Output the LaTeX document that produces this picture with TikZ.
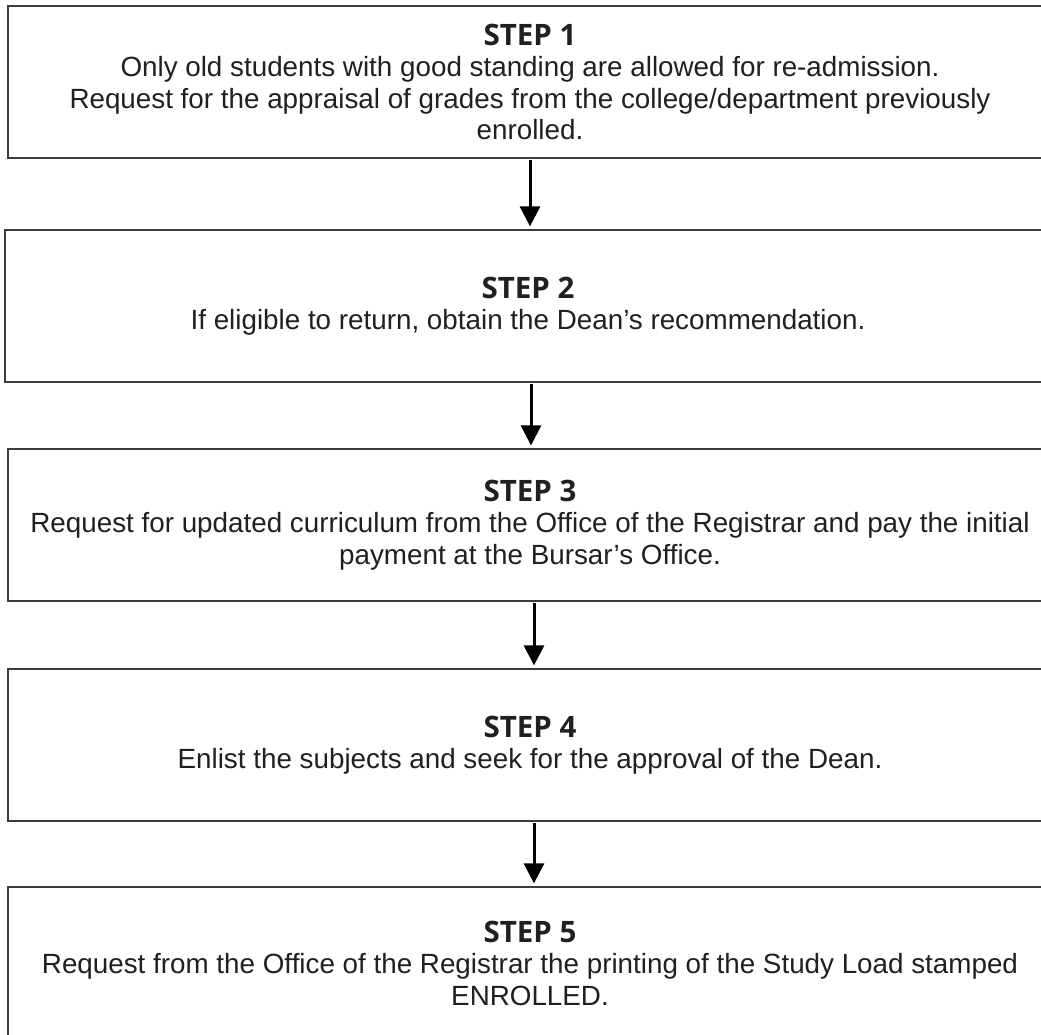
\documentclass[tikz,border=0pt]{standalone}
\usepackage{fontspec}
\setmainfont{Liberation Sans}
\newfontfamily\headfont{Open Sans}
\usetikzlibrary{arrows.meta}
\definecolor{boxline}{HTML}{3C3C3C}
\definecolor{txt}{HTML}{231F20}
\newcommand{\stephead}[1]{{\headfont\bfseries\fontsize{29.5}{31.5}\selectfont #1}}
\begin{document}
\begin{tikzpicture}[x=1pt,y=-1pt,
  stepbox/.style={draw=boxline,line width=1.3pt,minimum width=1044pt,minimum height=152pt,
    align=center,text=txt,font=\fontsize{27.8}{31.5}\selectfont,inner sep=0pt},
  arr/.style={line width=3pt,-{Triangle[width=20pt,length=20pt]},shorten >=3pt,shorten <=1pt}]
\useasboundingbox (0,0) rectangle (1041,1034);
\clip (0,0) rectangle (1041,1034);
\fill[white] (0,0) rectangle (1041,1034);
\node[stepbox] (b1) at (530,82) {\stephead{STEP 1}\\
  Only old students with good standing are allowed for re-admission.\\
  Request for the appraisal of grades from the college/department previously\\
  enrolled.};
\node[stepbox,minimum width=1046pt] (b2) at (528,306) {\stephead{STEP 2}\\
  If eligible to return, obtain the Dean’s recommendation.};
\node[stepbox] (b3) at (530,525) {\stephead{STEP 3}\\
  Request for updated curriculum from the Office of the Registrar and pay the initial\\
  payment at the Bursar’s Office.};
\node[stepbox] (b4) at (530,745) {\stephead{STEP 4}\\
  Enlist the subjects and seek for the approval of the Dean.};
\node[stepbox] (b5) at (530,963) {\stephead{STEP 5}\\
  Request from the Office of the Registrar the printing of the Study Load stamped\\
  ENROLLED.};
\draw[arr] (b1.south) -- (b1.south |- b2.north);
\draw[arr] ([xshift=3pt]b2.south) -- ([xshift=3pt]b2.south |- b3.north);
\draw[arr] ([xshift=4pt]b3.south) -- ([xshift=4pt]b3.south |- b4.north);
\draw[arr] ([xshift=4pt]b4.south) -- ([xshift=4pt]b4.south |- b5.north);
\end{tikzpicture}
\end{document}
